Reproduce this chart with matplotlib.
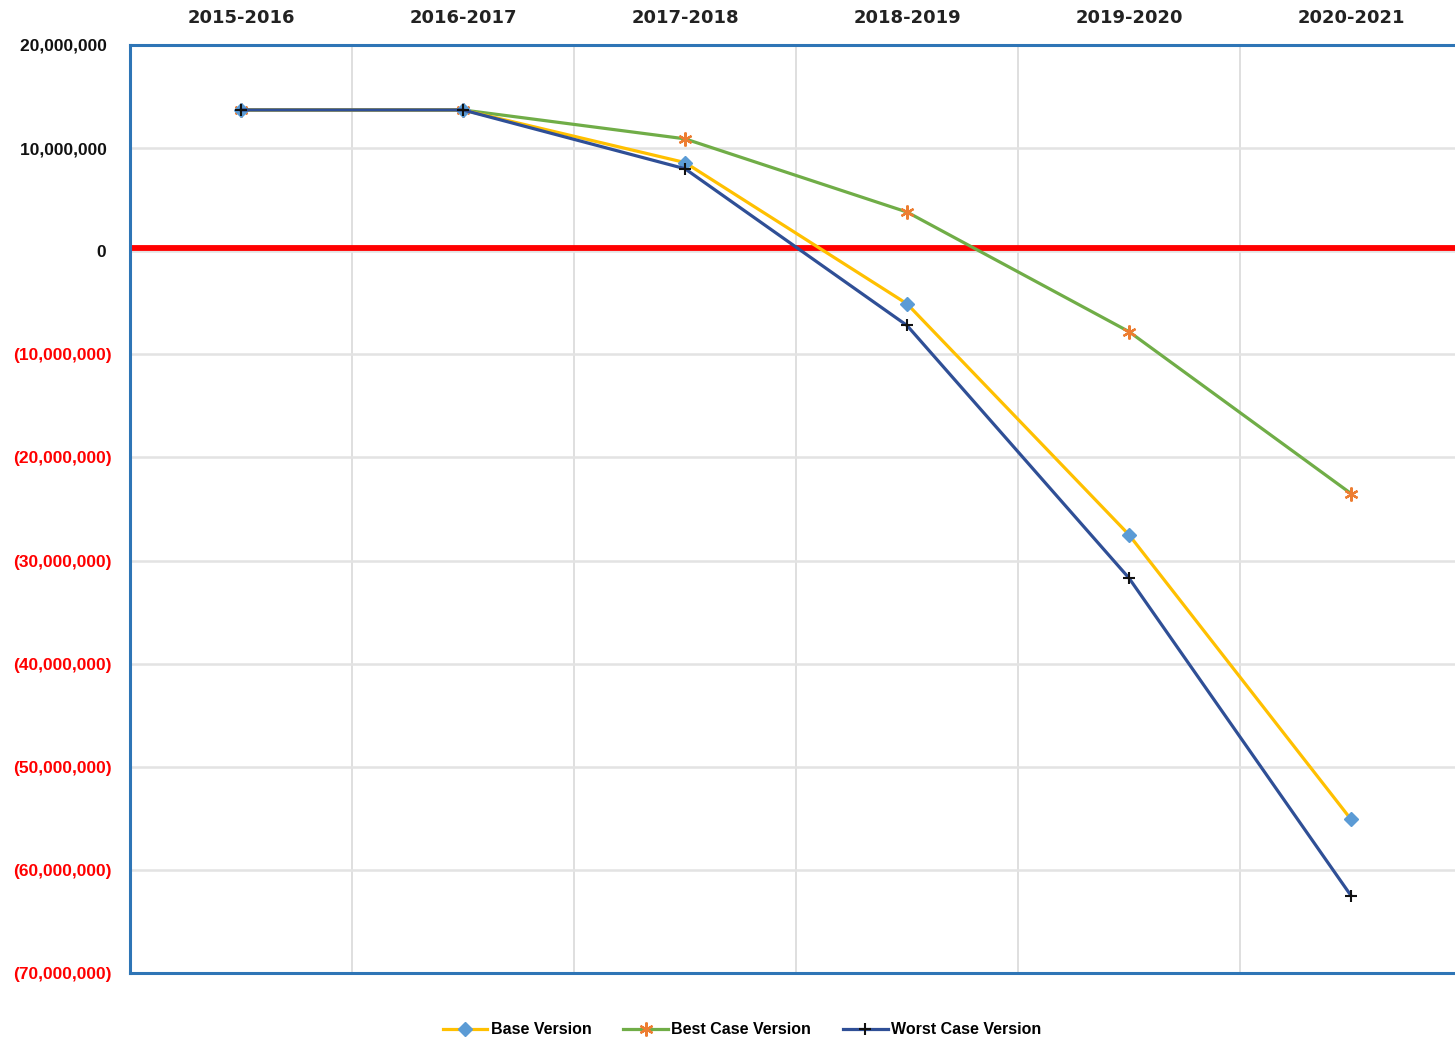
import matplotlib.pyplot as plt
import matplotlib.ticker as ticker

# Data
periods = ['2015-2016', '2016-2017', '2017-2018', '2018-2019', '2019-2020', '2020-2021']
base_version = [13.7e6, 13.7e6, 8.6e6, -5.1e6, -27.5e6, -55.1e6]
best_case = [13.7e6, 13.7e6, 10.9e6, 3.8e6, -7.8e6, -23.5e6]
worst_case = [13.7e6, 13.7e6, 8.0e6, -7.2e6, -31.7e6, -62.5e6]
y_ticks = [20e6, 10e6, 0, -10e6, -20e6, -30e6, -40e6, -50e6, -60e6, -70e6]
break_even = 0.3e6

fig = plt.figure(figsize=(14.55, 10.41), dpi=100)
ax = fig.add_axes([130 / 1455, 68 / 1041, 1332 / 1455, 928 / 1041])

x = list(range(len(periods)))

ax.axhline(break_even, color='#FF0000', lw=4.2, zorder=2)

ax.plot(x, base_version, color='#FFC000', lw=2.3, marker='D', ms=7.5,
        mfc='#5B9BD5', mec='#5B9BD5', label='Base Version', zorder=4)
ax.plot(x, best_case, color='#70AD47', lw=2.3, marker=(6, 2, 0), ms=10,
        mew=1.6, mec='#ED7D31', label='Best Case Version', zorder=3)
ax.plot(x, worst_case, color='#2F4F96', lw=2.3, marker='+', ms=9,
        mew=1.5, mec='#111111', label='Worst Case Version', zorder=5)

ax.set_xlim(-0.5, 5.5)
ax.set_ylim(-70e6, 20e6)

# grid: vertical lines between categories, horizontal at each tick
ax.set_xticks([i + 0.5 for i in range(5)], minor=True)
ax.grid(True, which='minor', axis='x', color='#D9D9D9', lw=1.2)
ax.set_yticks(y_ticks)
ax.grid(True, which='major', axis='y', color='#E3E3E3', lw=1.8)
ax.set_axisbelow(True)

ax.xaxis.tick_top()
ax.set_xticks(x)
ax.set_xticklabels(periods, fontsize=13, fontweight='bold',
                   color='#222222', family='DejaVu Sans')
ax.tick_params(axis='x', which='both', length=0, pad=13)
ax.tick_params(axis='y', length=0, pad=13)


def fmt(v, pos):
    if v < 0:
        return '({:,.0f})'.format(-v)
    return '{:,.0f} '.format(v)


ax.yaxis.set_major_formatter(ticker.FuncFormatter(fmt))
for lbl, v in zip(ax.get_yticklabels(), y_ticks):
    lbl.set_fontfamily('Liberation Sans')
    lbl.set_fontweight('bold')
    lbl.set_fontsize(12.5)
    lbl.set_color('#FF0000' if v < 0 else '#111111')

for side in ['left', 'top', 'bottom']:
    ax.spines[side].set_color('#2E75B6')
    ax.spines[side].set_linewidth(2.2)
ax.spines['right'].set_visible(False)

fig.legend(loc='center', bbox_to_anchor=(742 / 1455, 1 - 1030 / 1041), ncol=3,
           frameon=False, handlelength=2.8, columnspacing=2.0,
           handletextpad=0.2,
           prop={'family': 'Liberation Sans', 'size': 11.5, 'weight': 'bold'})

fig.savefig('out.png', dpi=100)
